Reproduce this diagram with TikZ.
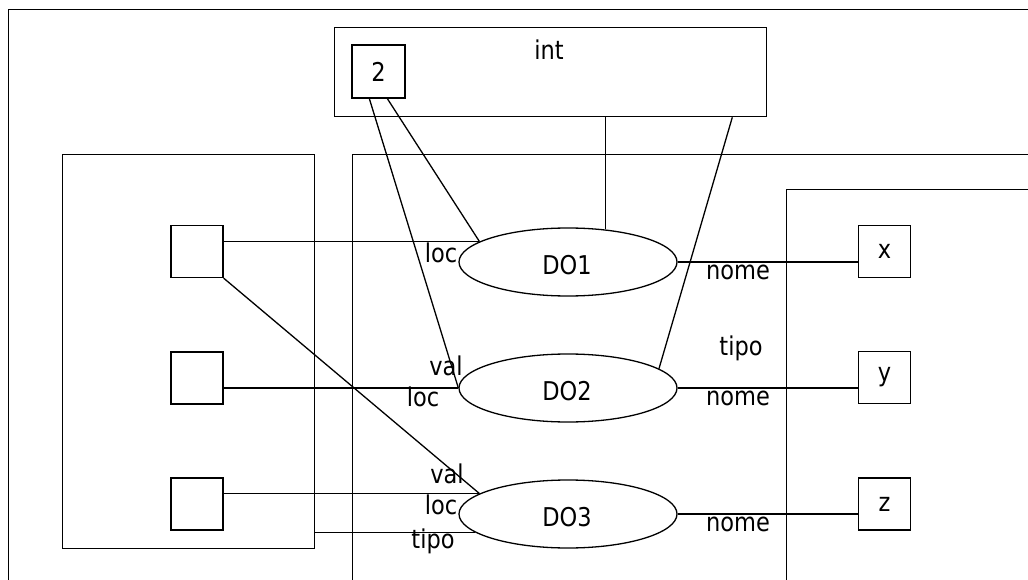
\documentclass[tikz,border=0pt]{standalone}
\usepackage{fontspec}
\setmainfont{DejaVu Sans}
\usetikzlibrary{shapes.geometric}
\newcommand{\stretchtxt}[1]{\scalebox{1}[1.15]{#1}}
\begin{document}
\begin{tikzpicture}[x=1pt,y=-1pt,line width=1.3pt,
  every node/.style={font=\fontsize{22.5}{26}\selectfont},
  sq/.style={draw,inner sep=0pt,minimum width=52pt,minimum height=52pt},
  frame/.style={draw,inner sep=0pt,anchor=north west},
  obj/.style={draw,ellipse,inner sep=0pt,minimum width=218pt,minimum height=68pt},
  lbl/.style={inner sep=0pt}]
\clip (0,0) rectangle (1028,580);
% frames
\node[frame,minimum width=1100pt,minimum height=700pt] (outer) at (8,9) {};
\node[frame,minimum width=432pt,minimum height=89pt] (int) at (334,27) {};
\node (inttxt) at (549,50) {\stretchtxt{int}};
\node[frame,minimum width=252pt,minimum height=394pt] (left) at (62,154) {};
\node[frame,minimum width=800pt,minimum height=600pt] (mid) at (352,154) {};
\node[frame,minimum width=400pt,minimum height=500pt] (right) at (786,189) {};
% boxes
\node[sq,minimum width=53pt,minimum height=53pt] (two) at (378.5,71.5) {\stretchtxt{2}};
\node[sq] (l1) at (197,251.5) {};
\node[sq] (l2) at (197,378) {};
\node[sq] (l3) at (197,504) {};
\node[sq] (bx) at (884.5,251.5) {\stretchtxt{x}};
\node[sq] (by) at (884.5,377.5) {\stretchtxt{y}};
\node[sq] (bz) at (884.5,504) {\stretchtxt{z}};
% ellipses
\node[obj] (DO1) at (568,262) {};
\node (t1) at (567,265) {\stretchtxt{DO1}};
\node[obj] (DO2) at (568,388) {};
\node (t2) at (567,391) {\stretchtxt{DO2}};
\node[obj] (DO3) at (568,514) {};
\node (t3) at (567,517) {\stretchtxt{DO3}};
% connectors
\draw (int.south -| DO1.41) -- (DO1.41);
\draw ([xshift=-35pt]int.south east) -- (DO2.12);
\draw ([xshift=18pt]two.south west) -- (DO2.west);
\draw ([xshift=36pt]two.south west) -- (DO1.167);
\draw (l1.east |- DO1.167) -- (DO1.167);
\draw (l2.east |- DO2.west) -- (DO2.west);
\draw (l1.south east) -- (DO3.167);
\draw (l3.east |- DO3.167) -- (DO3.167);
\draw (left.east |- DO3.191) -- (DO3.191);
\draw (DO1.east) -- (DO1.east -| bx.west);
\draw (DO2.east) -- (DO2.east -| by.west);
\draw (DO3.east) -- (DO3.east -| bz.west);
% labels
\node[lbl] (loc1) at (441,253) {\stretchtxt{loc}};
\node[lbl] (val2) at (446,366) {\stretchtxt{val}};
\node[lbl] (loc2) at (423,397) {\stretchtxt{loc}};
\node[lbl] (val3) at (447,474) {\stretchtxt{val}};
\node[lbl] (loc3) at (441,505) {\stretchtxt{loc}};
\node[lbl] (tipo3) at (433,541) {\stretchtxt{tipo}};
\node[lbl] (nome1) at (738,272) {\stretchtxt{nome}};
\node[lbl] (tipo2) at (741,348) {\stretchtxt{tipo}};
\node[lbl] (nome2) at (738,398) {\stretchtxt{nome}};
\node[lbl] (nome3) at (738,524) {\stretchtxt{nome}};
\end{tikzpicture}
\end{document}
